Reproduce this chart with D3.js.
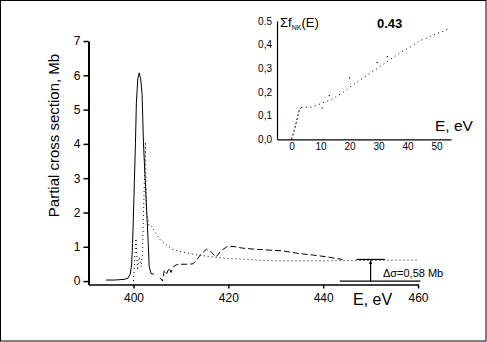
<!DOCTYPE html>
<html><head><meta charset="utf-8">
<script src="https://cdn.jsdelivr.net/npm/d3@7"></script>
<style>
html,body{margin:0;padding:0;background:#fff;}
svg{display:block;font-family:"Liberation Sans",Arial,sans-serif;}
</style></head>
<body>
<svg id="chart" width="487" height="342"></svg>
<script>
// ---- main panel data (E in eV, sigma in Mb) ----
const mainXTicks = [400, 420, 440, 460];
const mainXMinor = [410, 430, 450];
const mainYTicks = [0, 1, 2, 3, 4, 5, 6, 7];
const mainYMinor = [0.5, 1.5, 2.5, 3.5, 4.5, 5.5, 6.5];

// solid curve (main resonance)
const curveA_E = [394.2, 396, 398, 398.8, 399.3, 399.6, 399.8, 400.1, 400.4, 400.6, 400.9, 401.2, 401.5, 401.8, 402.1, 402.6, 403.1, 403.3, 403.7, 404.3];
const curveA_S = [0.03, 0.03, 0.05, 0.08, 0.2, 0.5, 1.1, 2.5, 4.0, 5.2, 5.9, 6.07, 5.9, 5.45, 4.0, 2.55, 1.1, 0.42, 0.22, 0.2];

// dotted curve
const curveB_E = [400.0, 400.5, 400.85, 401.2, 401.6, 401.9, 402.2, 402.5, 402.7, 403.0, 403.3, 403.8, 404.7, 405.8, 408.2, 409.8, 413, 417.4, 420, 422.7, 426.2, 430, 435, 442, 447, 453, 460];
const curveB_S = [0.0, 1.24, 0.32, 0.7, 0.42, 0.8, 2.5, 4.05, 2.0, 1.8, 1.6, 1.6, 1.4, 1.17, 0.93, 0.87, 0.77, 0.69, 0.66, 0.64, 0.61, 0.59, 0.59, 0.59, 0.6, 0.61, 0.61];

// dashed curve
const curveC_E = [405.6, 406.1, 406.5, 407.0, 407.5, 407.9, 408.4, 409.0, 409.6, 411, 412.5, 413.2, 414.2, 415.4, 416.3, 417.4, 418.4, 419.9, 421.5, 423, 425.5, 429, 431.5, 435, 437.8, 440.6, 442.7, 444.1];
const curveC_S = [0.1, 0.0, 0.32, 0.22, 0.38, 0.25, 0.42, 0.47, 0.49, 0.49, 0.5, 0.6, 0.78, 0.93, 0.86, 0.7, 0.88, 1.02, 1.0, 0.96, 0.93, 0.9, 0.88, 0.8, 0.76, 0.71, 0.66, 0.63];

// delta-sigma annotation
const bracketE = [447, 453];      // top bar
const baseE = [443.5, 460.5];     // bottom bar
const arrowE = 450;
const bracketTop = 0.63;
const deltaLabel = "\u0394\u03c3=0,58 Mb";

// ---- inset data ----
const insetXTicks = [0, 10, 20, 30, 40, 50];
const insetYTicks = [0, 0.1, 0.2, 0.3, 0.4, 0.5];
const insetYLabels = ["0,0", "0,1", "0,2", "0,3", "0,4", "0.5"];
const insetRiseE = [0, 1, 2, 2.7, 3.4];
const insetRiseF = [0, 0.04, 0.09, 0.125, 0.135];
const insetE = [3.4, 5, 7, 9, 10.3, 12, 14, 16, 18, 20, 23, 26, 29, 32, 35, 38, 41, 44, 47, 50, 52, 54.5];
const insetF = [0.135, 0.135, 0.137, 0.145, 0.152, 0.16, 0.17, 0.185, 0.2, 0.22, 0.245, 0.27, 0.295, 0.32, 0.345, 0.37, 0.39, 0.415, 0.43, 0.447, 0.455, 0.468];
const insetScatterE = [10.5, 13, 20, 29.5, 33];
const insetScatterF = [0.133, 0.185, 0.26, 0.325, 0.35];
const insetValue = "0.43";

const svg = d3.select("#chart");
svg.append("rect").attr("x", 0.5).attr("y", 0.5).attr("width", 485.5).attr("height", 340.5)
  .attr("fill", "#fff").attr("stroke", "#000").attr("stroke-width", 1);

// ---- main scales ----
const x = d3.scaleLinear().domain([390.5, 460]).range([88.5, 418]);
const y = d3.scaleLinear().domain([-0.1, 7]).range([284.5, 41]);

const zip = (a, b) => a.map((v, i) => [v, b[i]]);
const line = d3.line().x(d => x(d[0])).y(d => y(d[1]));

// axes
const gx = svg.append("g").attr("transform", `translate(0,${y.range()[0]})`);
gx.call(d3.axisBottom(x).tickValues(mainXMinor).tickSize(2.5).tickFormat(""));
gx.call(d3.axisBottom(x).tickValues(mainXTicks).tickSize(4).tickSizeOuter(0).tickPadding(5).tickFormat(d3.format("d")));
const gy = svg.append("g").attr("transform", `translate(${x.range()[0]},0)`);
gy.call(d3.axisLeft(y).tickValues(mainYMinor).tickSize(3).tickFormat(""));
gy.call(d3.axisLeft(y).tickValues(mainYTicks).tickSize(5).tickSizeOuter(0).tickPadding(3).tickFormat(d3.format("d")));
[gx, gy].forEach(g => {
  g.selectAll("path.domain").attr("stroke", "#000").attr("stroke-width", 2);
  g.selectAll("line").attr("stroke", "#000").attr("stroke-width", 1.5);
  g.selectAll("text").attr("font-size", 12).attr("fill", "#000").attr("font-family", "Liberation Sans, Arial, sans-serif");
});
gy.select("path.domain").attr("stroke-width", 2);
gx.select("path.domain").attr("stroke-width", 1.6);

// curves
svg.append("path").datum(zip(curveA_E, curveA_S)).attr("d", line)
  .attr("fill", "none").attr("stroke", "#000").attr("stroke-width", 1);
svg.append("path").datum(zip(curveB_E, curveB_S)).attr("d", line)
  .attr("fill", "none").attr("stroke", "#000").attr("stroke-width", 1).attr("stroke-dasharray", "1,3");
svg.append("path").datum(zip(curveC_E, curveC_S)).attr("d", line)
  .attr("fill", "none").attr("stroke", "#000").attr("stroke-width", 1).attr("stroke-dasharray", "6,3");

// annotation
const ann = svg.append("g").attr("stroke", "#000").attr("stroke-width", 1.2);
ann.append("line").attr("x1", x(bracketE[0])).attr("x2", x(bracketE[1]))
  .attr("y1", y(bracketTop)).attr("y2", y(bracketTop));
ann.append("line").attr("x1", x(baseE[0])).attr("x2", x(baseE[1]))
  .attr("y1", y(0)).attr("y2", y(0));
ann.append("line").attr("x1", x(arrowE)).attr("x2", x(arrowE))
  .attr("y1", y(bracketTop) + 1).attr("y2", y(0));
svg.append("path")
  .attr("d", `M${x(arrowE)},${y(bracketTop) + 0.5} l-1.6,4 l3.2,0 Z`)
  .attr("fill", "#000");
svg.append("text").attr("x", x(452.6)).attr("y", y(0.125))
  .attr("font-size", 11).attr("fill", "#000").text(deltaLabel);

// titles
svg.append("text").attr("transform", `translate(58.5,${(y(7) + 230) / 2 + 0}) rotate(-90)`)
  .attr("text-anchor", "middle").attr("font-size", 15).attr("fill", "#000")
  .text("Partial cross section, Mb");
svg.append("text").attr("x", 353).attr("y", 305).attr("font-size", 16).attr("fill", "#000").text("E, eV");

// ---- inset ----
const xi = d3.scaleLinear().domain([-5, 55]).range([277, 451]);
const yi = d3.scaleLinear().domain([0, 0.5]).range([139.3, 21]);
const linei = d3.line().x(d => xi(d[0])).y(d => yi(d[1]));

const gxi = svg.append("g").attr("transform", `translate(0,${yi(0)})`)
  .call(d3.axisBottom(xi).tickValues(insetXTicks).tickSize(0).tickPadding(4).tickFormat(d3.format("d")));
const gyi = svg.append("g").attr("transform", `translate(${xi(-5)},0)`)
  .call(d3.axisLeft(yi).tickValues(insetYTicks).tickSize(0).tickPadding(5).tickFormat((d, i) => insetYLabels[i]));
[gxi, gyi].forEach(g => {
  g.selectAll("path.domain").attr("stroke", "#000").attr("stroke-width", 1.2);
  g.selectAll("text").attr("font-size", 10).attr("fill", "#000").attr("font-family", "Liberation Sans, Arial, sans-serif");
});

svg.append("path").datum(zip(insetRiseE, insetRiseF)).attr("d", linei)
  .attr("fill", "none").attr("stroke", "#000").attr("stroke-width", 1).attr("stroke-dasharray", "2,2");
svg.append("path").datum(zip(insetE, insetF)).attr("d", linei)
  .attr("fill", "none").attr("stroke", "#000").attr("stroke-width", 1).attr("stroke-dasharray", "1,3.5");
svg.append("g").selectAll("rect").data(zip(insetScatterE, insetScatterF)).join("rect")
  .attr("x", d => xi(d[0]) - 0.5).attr("y", d => yi(d[1]) - 0.5)
  .attr("width", 1.2).attr("height", 1.2).attr("fill", "#000");

const ttl = svg.append("text").attr("x", 280).attr("y", 26.5).attr("font-size", 13).attr("fill", "#000");
ttl.append("tspan").text("\u03a3f");
ttl.append("tspan").attr("font-size", 7).attr("dy", 3).text("NK");
ttl.append("tspan").attr("dy", -3).text("(E)");
svg.append("text").attr("x", 377).attr("y", 27.5).attr("font-size", 13).attr("font-weight", "bold")
  .attr("fill", "#000").text(insetValue);
svg.append("text").attr("x", 435).attr("y", 131).attr("font-size", 15.5).attr("fill", "#000").text("E, eV");
</script>
</body></html>
